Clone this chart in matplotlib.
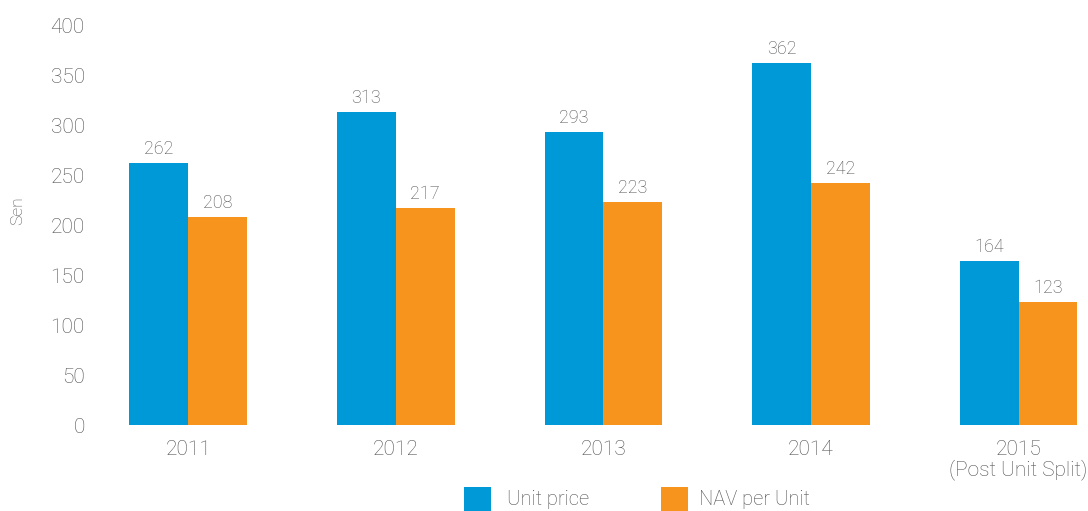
import matplotlib
matplotlib.use("Agg")
import matplotlib.pyplot as plt
from matplotlib.patches import Rectangle
import numpy as np

years = ["2011", "2012", "2013", "2014", "2015\n(Post Unit Split)"]
unit_price = [262, 313, 293, 362, 164]
nav_per_unit = [208, 217, 223, 242, 123]
y_ticks = [0, 50, 100, 150, 200, 250, 300, 350, 400]
series_names = ["Unit price", "NAV per Unit"]

blue = "#0099D8"
orange = "#F7941D"
grey = "#4F4F4F"

plt.rcParams["font.family"] = ["Roboto", "DejaVu Sans"]
plt.rcParams["font.weight"] = "light"

W, H = 1088, 511
fig = plt.figure(figsize=(W / 100, H / 100), dpi=100)
ax = fig.add_axes([100 / W, 1 - 425 / H, 985 / W, 400 / H])

x = np.arange(len(years))
w = 0.283
b1 = ax.bar(x - w / 2, unit_price, w, color=blue)
b2 = ax.bar(x + w / 2, nav_per_unit, w, color=orange)

for bars, vals in ((b1, unit_price), (b2, nav_per_unit)):
    for r, v in zip(bars, vals):
        ax.text(r.get_x() + r.get_width() / 2, v + 5, str(v), ha="center",
                va="bottom", fontsize=13, color=grey)

ax.set_ylim(0, 400)
ax.set_xlim(-0.425, 4.32)
ax.set_yticks(y_ticks)
ax.set_xticks(x)
ax.set_xticklabels(years, linespacing=1.0)
ax.tick_params(axis="both", length=0, labelsize=15, labelcolor=grey)
ax.tick_params(axis="y", pad=11)
ax.tick_params(axis="x", pad=11)
for s in ax.spines.values():
    s.set_visible(False)

fig.text(18 / W, 1 - 211 / H, "Sen", rotation=90, ha="center", va="center",
         fontsize=12.5, color=grey)

# Legend keys along the bottom edge
for (sx, tx), name, col in zip([(464, 507), (661, 699)], series_names, [blue, orange]):
    fig.add_artist(Rectangle((sx / W, 0), 27 / W, 24 / H, transform=fig.transFigure,
                             facecolor=col, edgecolor="none"))
    fig.text(tx / W, 1 - 499 / H, name, ha="left", va="center", fontsize=14.5,
             color=grey)

fig.savefig("out.png", dpi=100)
